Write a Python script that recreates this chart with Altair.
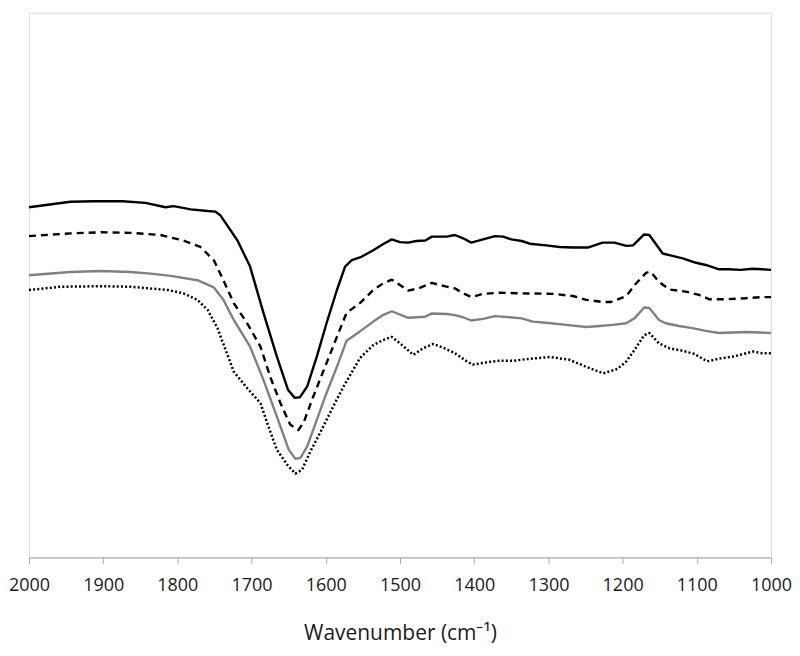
import altair as alt
import pandas as pd

# Wavenumber (cm-1) and relative absorbance (arbitrary units)
wn_solid = [2000, 1944, 1913, 1874, 1843, 1816, 1805, 1782, 1759, 1749, 1742, 1719, 1702, 1684,
            1666, 1651, 1642, 1635, 1625, 1612, 1599, 1585, 1574, 1565, 1552, 1536, 1523, 1511,
            1500, 1489, 1478, 1466, 1457, 1437, 1426, 1415, 1404, 1388, 1372, 1361, 1350, 1336,
            1325, 1303, 1285, 1267, 1247, 1227, 1211, 1195, 1186, 1171, 1164, 1146, 1137, 1119,
            1101, 1088, 1070, 1057, 1041, 1025, 1012, 1000]
ab_solid = [0.643, 0.653, 0.654, 0.654, 0.651, 0.643, 0.645, 0.639, 0.636, 0.635, 0.628, 0.582,
            0.534, 0.449, 0.369, 0.308, 0.293, 0.294, 0.314, 0.369, 0.430, 0.491, 0.534, 0.546,
            0.552, 0.564, 0.575, 0.584, 0.579, 0.578, 0.581, 0.582, 0.589, 0.589, 0.592, 0.586,
            0.578, 0.584, 0.590, 0.589, 0.584, 0.581, 0.576, 0.573, 0.570, 0.569, 0.569, 0.578,
            0.578, 0.572, 0.573, 0.593, 0.592, 0.558, 0.555, 0.549, 0.541, 0.537, 0.529, 0.529,
            0.528, 0.530, 0.529, 0.528]

wn_dashed = [2000, 1944, 1903, 1863, 1823, 1792, 1769, 1751, 1738, 1724, 1706, 1688, 1675, 1661,
             1648, 1637, 1630, 1617, 1599, 1585, 1572, 1554, 1536, 1523, 1511, 1500, 1489, 1475,
             1457, 1440, 1426, 1415, 1404, 1388, 1366, 1339, 1294, 1267, 1249, 1227, 1216, 1195,
             1182, 1168, 1162, 1151, 1137, 1115, 1097, 1083, 1061, 1034, 1012, 1000]
ab_dashed = [0.590, 0.595, 0.597, 0.596, 0.592, 0.582, 0.570, 0.546, 0.509, 0.467, 0.430, 0.387,
             0.332, 0.283, 0.244, 0.234, 0.247, 0.295, 0.357, 0.405, 0.449, 0.467, 0.491, 0.503,
             0.510, 0.500, 0.490, 0.494, 0.504, 0.498, 0.494, 0.485, 0.478, 0.484, 0.486, 0.485,
             0.484, 0.480, 0.473, 0.469, 0.469, 0.480, 0.503, 0.523, 0.524, 0.506, 0.492, 0.488,
             0.482, 0.474, 0.474, 0.476, 0.478, 0.478]

wn_gray = [2000, 1944, 1903, 1863, 1836, 1809, 1773, 1751, 1738, 1724, 1702, 1684, 1666, 1650,
           1641, 1634, 1625, 1612, 1599, 1585, 1572, 1554, 1536, 1523, 1511, 1489, 1466, 1457,
           1437, 1426, 1415, 1404, 1388, 1372, 1352, 1336, 1321, 1303, 1276, 1249, 1231, 1213,
           1195, 1184, 1171, 1164, 1151, 1142, 1124, 1106, 1088, 1070, 1052, 1034, 1016, 1000]
ab_gray = [0.518, 0.524, 0.526, 0.524, 0.521, 0.517, 0.509, 0.496, 0.473, 0.436, 0.387, 0.326,
           0.259, 0.198, 0.181, 0.183, 0.204, 0.253, 0.302, 0.350, 0.398, 0.415, 0.433, 0.445,
           0.452, 0.440, 0.442, 0.448, 0.447, 0.445, 0.441, 0.435, 0.438, 0.443, 0.441, 0.439,
           0.433, 0.431, 0.427, 0.423, 0.425, 0.427, 0.430, 0.439, 0.459, 0.458, 0.436, 0.430,
           0.425, 0.421, 0.416, 0.412, 0.413, 0.414, 0.413, 0.412]

wn_dotted = [2000, 1957, 1903, 1863, 1813, 1792, 1773, 1759, 1746, 1724, 1706, 1688, 1679, 1666,
             1652, 1641, 1632, 1621, 1608, 1590, 1576, 1567, 1554, 1536, 1523, 1511, 1500, 1482,
             1469, 1455, 1440, 1426, 1410, 1402, 1384, 1366, 1348, 1330, 1298, 1272, 1249, 1226,
             1207, 1195, 1184, 1171, 1164, 1151, 1137, 1121, 1104, 1086, 1070, 1050, 1025, 1012,
             1000]
ab_dotted = [0.491, 0.497, 0.498, 0.497, 0.491, 0.485, 0.473, 0.454, 0.421, 0.341, 0.311, 0.283,
             0.247, 0.198, 0.170, 0.154, 0.161, 0.194, 0.228, 0.277, 0.314, 0.335, 0.366, 0.390,
             0.399, 0.405, 0.393, 0.372, 0.384, 0.392, 0.384, 0.375, 0.360, 0.354, 0.358, 0.361,
             0.361, 0.364, 0.368, 0.363, 0.350, 0.338, 0.346, 0.360, 0.381, 0.408, 0.412, 0.393,
             0.384, 0.380, 0.374, 0.360, 0.365, 0.369, 0.378, 0.375, 0.375]

tick_values = [2000, 1900, 1800, 1700, 1600, 1500, 1400, 1300, 1200, 1100, 1000]

FONT = "Open Sans"

x_enc = alt.X(
    "wn:Q",
    scale=alt.Scale(domain=[1000, 2000], reverse=True, nice=False, zero=False),
    axis=alt.Axis(
        title="Wavenumber (cm⁻¹)",
        values=tick_values,
        format="d",
        grid=False,
        domainColor="#a6a6a6",
        tickColor="#a6a6a6",
        tickSize=6,
        labelFont=FONT,
        labelFontSize=18,
        labelColor="#1a1a1a",
        labelPadding=13,
        labelFlush=False,
        labelOverlap=False,
        titleFont=FONT,
        titleFontSize=21,
        titleFontWeight="normal",
        titleColor="#1a1a1a",
        titlePadding=28,
    ),
)
y_enc = alt.Y("ab:Q", scale=alt.Scale(domain=[0, 1], nice=False, zero=False), axis=None)


def layer(wn, ab, color, width, dash=None):
    df = pd.DataFrame({"wn": wn, "ab": ab})
    kw = dict(color=color, strokeWidth=width, strokeJoin="round")
    if dash is not None:
        kw["strokeDash"] = dash
        kw["strokeCap"] = "butt"
    return alt.Chart(df).mark_line(**kw).encode(x=x_enc, y=y_enc)


chart = alt.layer(
    layer(wn_dotted, ab_dotted, "#000000", 2.5, [2, 2.2]),
    layer(wn_gray, ab_gray, "#808080", 2.4),
    layer(wn_dashed, ab_dashed, "#000000", 2.4, [7, 5]),
    layer(wn_solid, ab_solid, "#000000", 2.4),
).properties(
    width=744,
    height=546,
    padding={"left": 0, "top": 4, "right": 0, "bottom": 6},
).configure_view(
    stroke="#a6a6a6", strokeWidth=1
).configure(background="white")

chart.save("out.html", embed_options={"renderer": "svg", "actions": False})
